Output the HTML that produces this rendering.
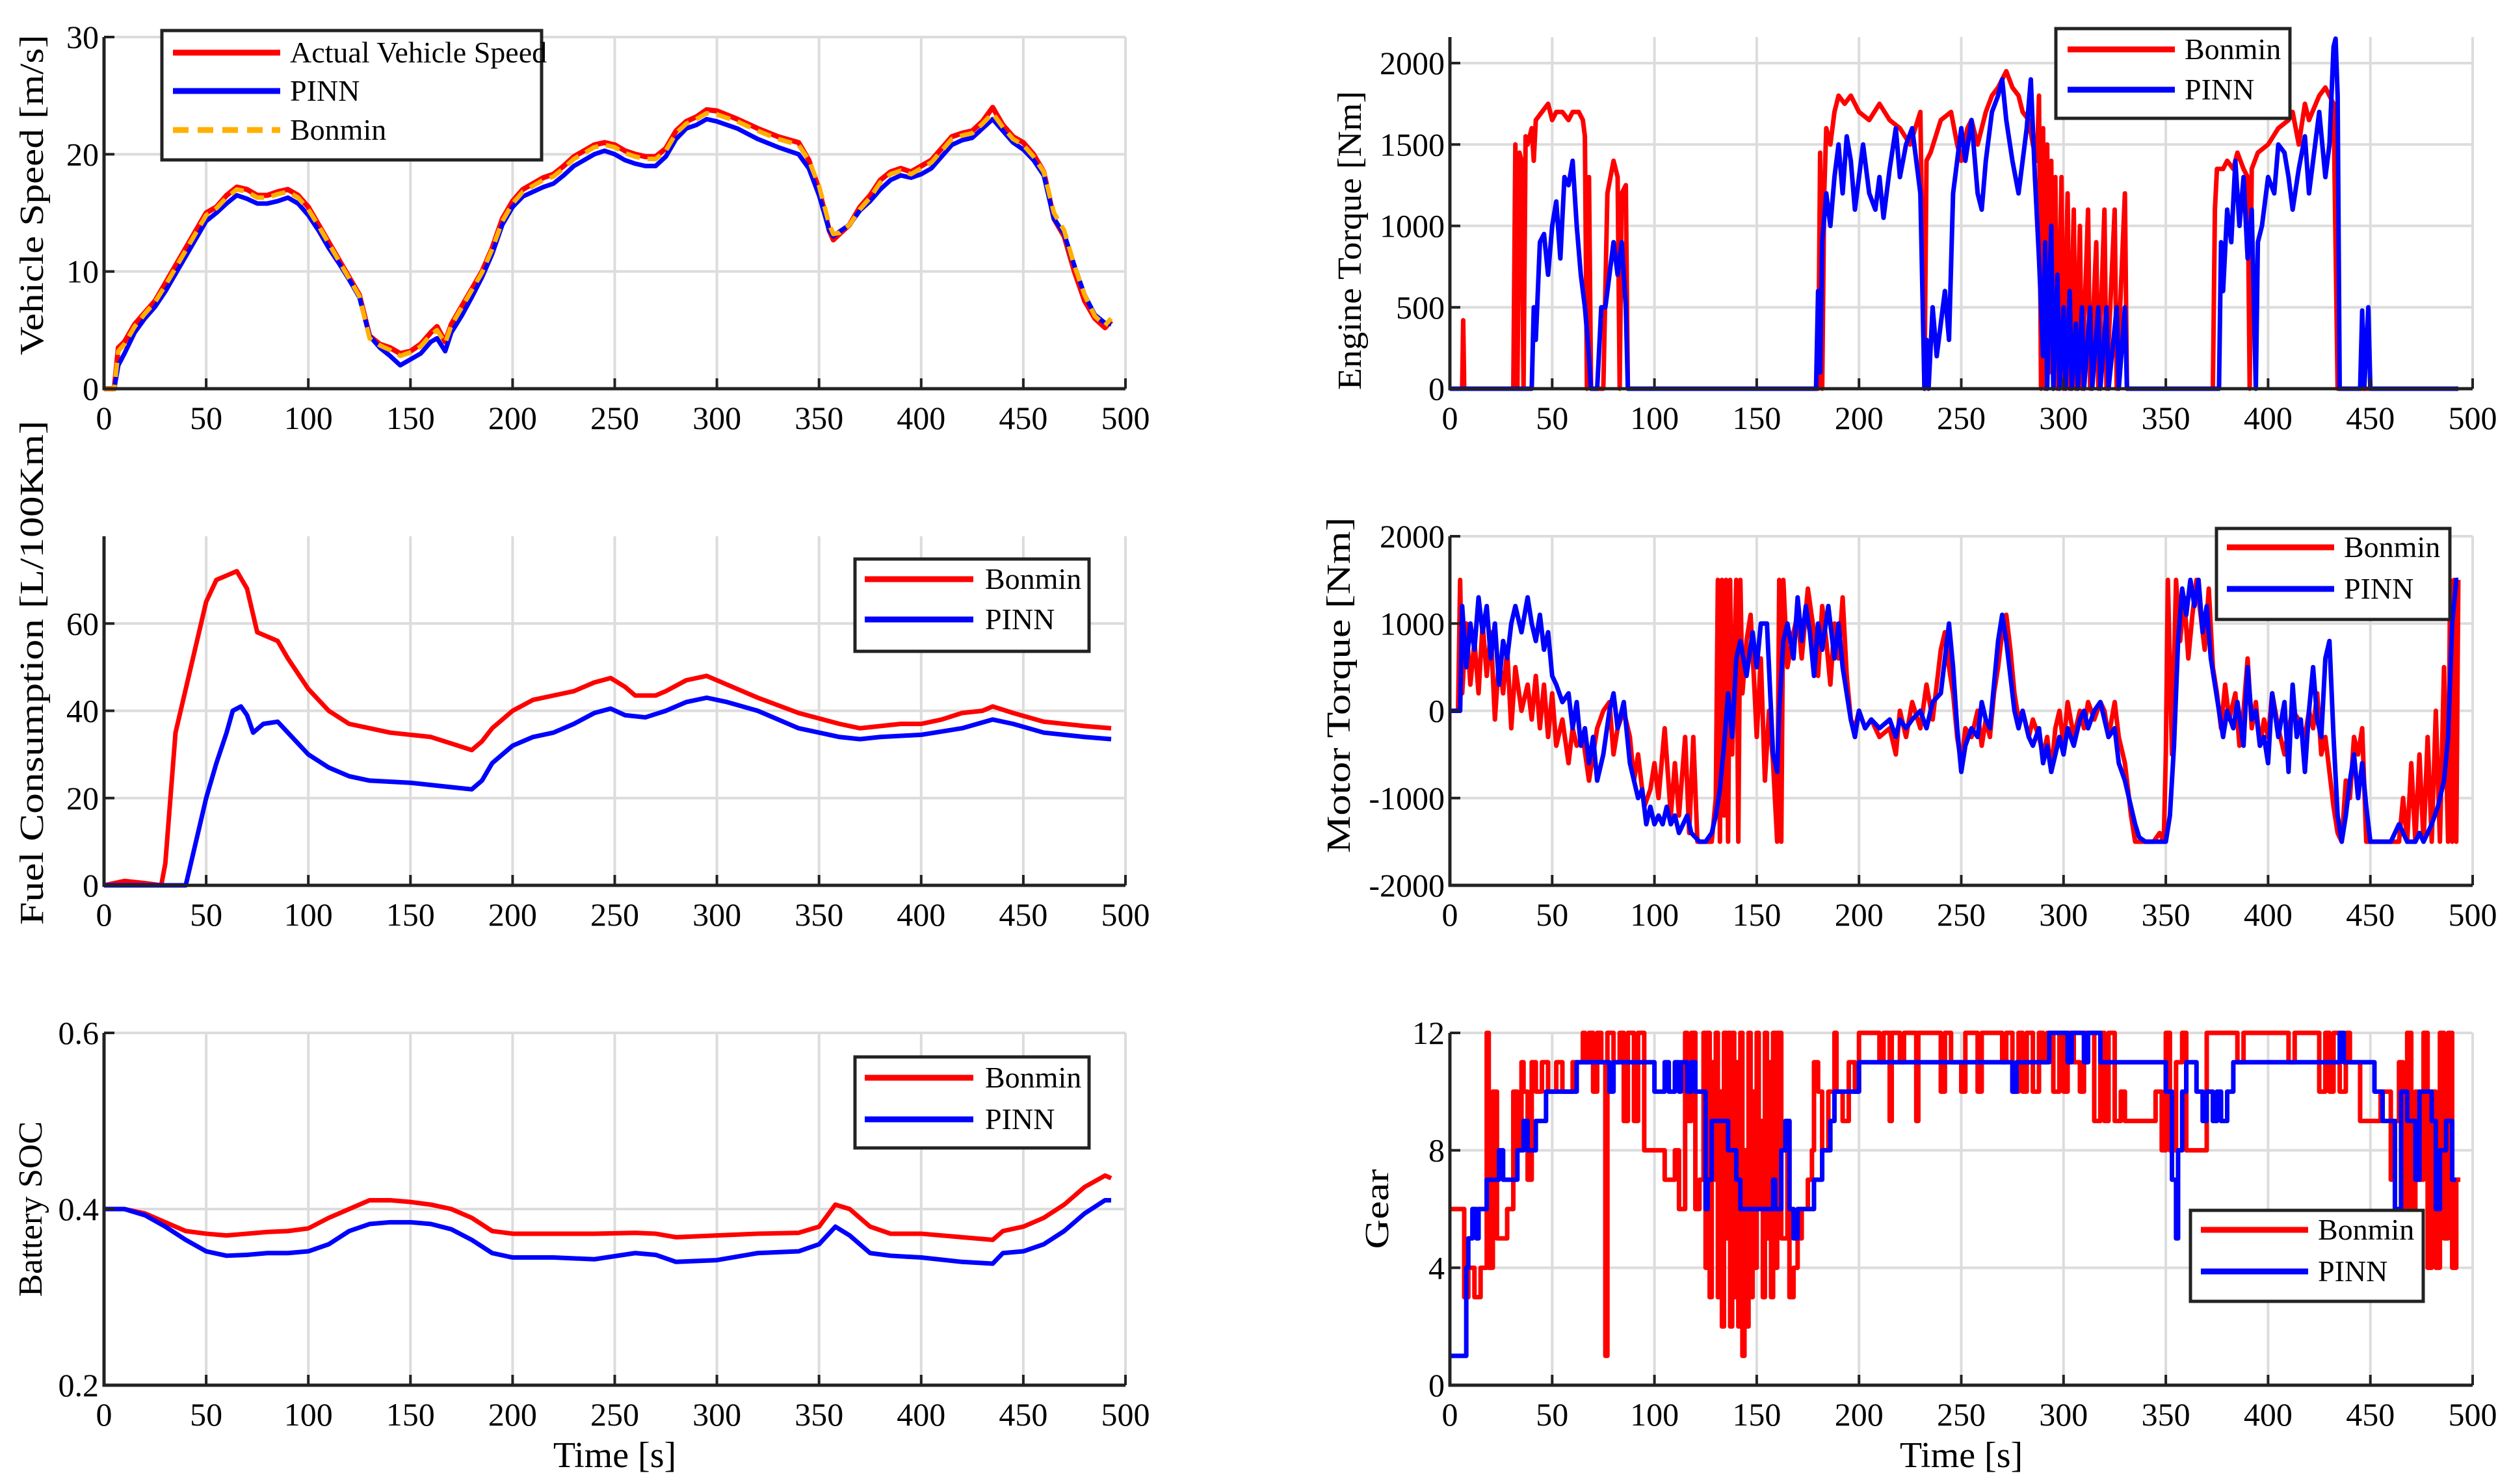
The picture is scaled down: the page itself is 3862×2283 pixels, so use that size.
<!DOCTYPE html>
<html><head><meta charset="utf-8">
<style>
html,body{margin:0;padding:0;background:#fff;}
svg{display:block;font-family:"Liberation Serif",serif;}
</style></head>
<body>
<svg id="fig" width="3862" height="2283" viewBox="0 0 3862 2283" xmlns="http://www.w3.org/2000/svg"></svg>
<script>
// ---------- DATA ----------
const speedT=[0,5,7,10,15,20,25,30,35,40,45,50,55,60,65,70,75,80,85,90,95,100,105,110,115,120,125,130,135,140,145,150,155,160,163,167,170,175,180,185,190,195,200,205,210,215,220,225,230,240,245,250,255,260,265,270,275,280,285,290,295,300,310,320,330,340,345,350,355,357,360,365,370,375,380,385,390,395,400,405,410,415,420,425,430,435,440,445,450,455,460,465,470,475,480,485,490,493];
const speedActual=[0,0,3.5,4,5.5,6.5,7.5,9,10.5,12,13.5,15,15.5,16.5,17.2,17,16.5,16.5,16.8,17,16.5,15.5,14,12.5,11,9.5,8,4.5,3.8,3.5,3,3.2,3.8,4.8,5.3,4,5.5,7,8.5,10,12,14.5,16,17,17.5,18,18.3,19,19.8,20.8,21,20.8,20.3,20,19.8,19.8,20.5,22,22.8,23.2,23.8,23.7,23,22.2,21.5,21,19.5,17,13.5,12.7,13.2,14,15.5,16.5,17.8,18.5,18.8,18.5,19,19.5,20.5,21.5,21.8,22,22.8,24,22.5,21.5,21,20,18.5,14.5,13,10,7.5,6,5.2,5.8];
const speedPinn=[0,0,2,3,4.8,6,7,8.3,9.8,11.3,12.8,14.3,15,15.8,16.5,16.2,15.8,15.8,16,16.3,15.8,14.8,13.5,12,10.7,9.3,7.8,4.5,3.5,2.8,2,2.5,3,4,4.3,3.2,4.8,6.2,7.8,9.5,11.5,14,15.5,16.4,16.8,17.2,17.5,18.2,19,20,20.3,20,19.5,19.2,19,19,19.8,21.3,22.2,22.5,23,22.8,22.2,21.3,20.6,20,18.8,16.5,13.5,13,13.4,14,15.2,16,17,17.8,18.2,18,18.3,18.8,19.8,20.8,21.2,21.4,22.2,23,22,21,20.4,19.5,18.2,14.5,13.2,10.5,8,6.3,5.6,5.5];
const speedBonmin=[0,0,3.2,3.8,5.3,6.4,7.4,8.8,10.3,11.8,13.3,14.8,15.4,16.3,17,16.8,16.3,16.3,16.6,16.8,16.3,15.3,13.9,12.4,10.9,9.4,7.9,4.3,3.7,3.3,2.8,3.1,3.6,4.6,5,3.9,5.4,6.9,8.4,9.9,11.9,14.3,15.8,16.8,17.3,17.8,18.1,18.8,19.6,20.6,20.8,20.6,20.1,19.8,19.6,19.6,20.3,21.8,22.6,23,23.5,23.4,22.8,22,21.3,20.8,19.5,17.3,14,13.2,13.3,14,15.3,16.3,17.6,18.3,18.6,18.3,18.8,19.3,20.3,21.3,21.6,21.8,22.6,23.5,22.3,21.3,20.8,19.8,18.5,15,13.5,10.5,8,6.2,5.4,6];

const fuelBonT=[0,10,20,28,30,35,40,45,50,55,60,65,70,75,80,85,90,100,110,120,130,140,150,160,170,180,185,190,200,210,220,230,240,248,255,260,270,275,285,295,305,320,340,360,370,380,390,400,410,420,430,435,445,460,480,493];
const fuelBonmin=[0,1,0.5,0,5,35,45,55,65,70,71,72,68,58,57,56,52,45,40,37,36,35,34.5,34,32.5,31,33,36,40,42.5,43.5,44.5,46.5,47.5,45.5,43.5,43.5,44.5,47,48,46,43,39.5,37,36,36.5,37,37,38,39.5,40,41,39.5,37.5,36.5,36];
const fuelPinnT=[0,40,45,50,55,60,63,67,70,73,78,85,90,100,110,120,130,150,170,180,185,190,200,210,220,230,240,248,255,265,275,285,295,305,320,340,360,370,380,400,420,435,445,460,480,493];
const fuelPinn=[0,0,10,20,28,35,40,41,39,35,37,37.5,35,30,27,25,24,23.5,22.5,22,24,28,32,34,35,37,39.5,40.5,39,38.5,40,42,43,42,40,36,34,33.5,34,34.5,36,38,37,35,34,33.5];

const socT=[0,10,20,30,40,50,60,70,80,90,100,110,120,130,140,150,160,170,180,190,200,220,240,260,270,280,300,320,340,350,358,365,375,385,400,420,435,440,450,460,470,480,490,493];
const socBonmin=[0.4,0.4,0.395,0.385,0.375,0.372,0.37,0.372,0.374,0.375,0.378,0.39,0.4,0.41,0.41,0.408,0.405,0.4,0.39,0.375,0.372,0.372,0.372,0.373,0.372,0.368,0.37,0.372,0.373,0.38,0.405,0.4,0.38,0.372,0.372,0.368,0.365,0.375,0.38,0.39,0.405,0.425,0.438,0.435];
const socPinn=[0.4,0.4,0.393,0.38,0.365,0.352,0.347,0.348,0.35,0.35,0.352,0.36,0.375,0.383,0.385,0.385,0.383,0.377,0.365,0.35,0.345,0.345,0.343,0.35,0.348,0.34,0.342,0.35,0.352,0.36,0.38,0.37,0.35,0.347,0.345,0.34,0.338,0.35,0.352,0.36,0.375,0.395,0.41,0.41];

const engBonT=[0,6,6.5,7,31,32,33,34,35,36,37,38,40,41,42,45,48,50,52,55,58,60,63,65,66,67,68,69,70,75,77,80,82,83,84,86,87,180,181,182,183,184,186,188,190,193,196,200,205,210,215,220,225,230,232,233,235,240,245,248,250,253,255,258,260,262,265,268,270,272,275,278,280,283,285,287,288,289,290,291,292,293,294,295,296,297,299,300,302,303,305,306,308,309,312,313,316,317,320,321,325,326,330,331,335,373,374,375,378,380,383,385,388,390,391,392,395,400,405,410,412,415,418,420,425,428,430,432,434,493];
const engBonmin=[0,0,420,0,0,1500,0,1450,1400,0,1550,1500,1600,1400,1650,1700,1750,1650,1700,1700,1650,1700,1700,1650,1550,0,1300,0,0,0,1200,1400,1300,0,1200,1250,0,0,1450,0,1200,1600,1500,1700,1800,1750,1800,1700,1650,1750,1650,1600,1500,1700,0,1400,1450,1650,1700,1500,1400,1600,1650,1500,1600,1700,1800,1850,1900,1950,1850,1800,1700,1650,1500,1400,1800,0,1600,0,1500,100,1400,0,1300,0,1300,0,1200,0,1100,0,1000,0,1100,0,900,0,1100,0,1100,0,1200,0,0,0,1100,1350,1350,1400,1350,1450,1350,1300,0,1350,1450,1500,1600,1650,1700,1500,1750,1650,1800,1850,1800,1750,0,0];
const engPinnT=[0,40,41,42,44,46,48,50,52,54,56,58,60,62,64,66,68,69,70,72,74,76,78,80,82,84,86,87,179,180,181,182,184,186,188,190,192,194,196,198,200,202,205,208,210,212,215,218,220,223,226,230,232,233,234,236,238,240,242,244,246,248,250,252,255,258,260,262,265,268,270,272,275,278,280,282,284,286,288,290,291,292,293,294,295,297,298,300,301,303,304,306,307,309,310,313,314,317,318,321,322,326,327,330,331,376,377,378,380,382,384,386,388,390,392,394,395,397,400,403,405,408,410,412,415,418,420,422,425,428,430,432,433,434,435,445,446,447,449,450,493];
const engPinn=[0,0,500,300,900,950,700,1000,1150,800,1300,1250,1400,1000,700,500,200,0,0,0,500,500,700,900,700,900,500,0,0,600,100,900,1200,1000,1300,1500,1200,1550,1400,1100,1300,1500,1200,1100,1300,1050,1350,1600,1300,1500,1600,1200,0,300,0,500,200,400,600,300,1200,1400,1600,1400,1650,1200,1100,1400,1700,1800,1900,1650,1400,1200,1400,1600,1900,1300,800,200,900,0,600,1000,0,700,0,500,0,600,0,400,0,500,0,500,0,500,0,500,0,500,0,500,0,0,900,600,1100,900,1400,1000,1300,800,1100,0,900,1000,1300,1200,1500,1450,1300,1100,1350,1550,1200,1400,1700,1300,1500,2100,2150,1800,0,0,480,0,500,0,0];

const motBonT=[0,4,5,6,8,10,12,14,16,18,20,22,24,26,28,30,32,35,38,40,42,44,46,48,50,52,55,58,60,62,65,68,70,72,75,78,80,82,85,88,90,92,95,98,100,102,105,108,110,112,115,117,119,121,125,128,130,131,132,133,134,135,136,137,138,140,141,142,143,145,147,149,150,152,154,156,158,160,161,162,163,165,168,170,172,175,178,180,182,184,186,188,190,192,194,196,198,200,203,206,210,215,218,220,223,226,230,233,236,240,242,244,246,248,250,252,255,258,260,262,264,266,268,270,272,274,276,278,280,283,285,288,290,292,294,296,298,300,302,305,308,310,312,315,318,320,322,325,327,330,333,335,340,342,344,347,349,350,351,353,355,357,359,361,363,365,367,369,371,373,375,377,379,381,384,386,388,390,392,394,396,398,400,402,405,408,410,412,415,418,420,422,424,426,428,430,432,434,436,438,440,442,444,446,448,450,455,460,464,466,468,470,472,474,476,478,480,482,484,486,488,489,490,491,492,493];
const motBonmin=[0,0,1500,200,1000,300,800,200,1000,400,900,-100,600,200,700,-200,500,0,300,-100,400,-200,300,-300,200,-400,-100,-600,-200,-400,-300,-800,-500,-200,0,100,-500,-200,0,-300,-800,-500,-1100,-900,-600,-1000,-200,-1200,-600,-1200,-300,-1400,-300,-1500,-1500,-1500,-1000,1500,-1500,1500,-1200,1500,-1500,1500,-500,1500,-1500,1500,200,800,1100,200,-300,600,-800,0,-600,-1500,1500,-1500,1500,500,900,1100,600,1400,900,400,1200,800,300,1000,600,1300,400,-100,-200,0,-200,-100,-300,-200,-500,0,-300,100,-200,300,-100,700,900,500,200,-300,-600,-200,-300,0,-400,-100,-300,200,500,900,1100,700,200,-100,0,-300,-100,-300,-500,-300,-700,-200,0,-400,100,-300,0,-200,100,-100,100,0,-300,100,-300,-600,-1200,-1500,-1500,-1500,-1500,-1400,-1500,-500,1500,-500,1500,800,1300,600,1100,1500,1100,700,1400,500,200,-200,300,-100,200,-400,0,600,-200,100,-400,-100,-300,200,-200,-500,-200,0,-100,-300,0,-200,200,-500,-300,-700,-1100,-1400,-1500,-800,-1000,-300,-500,-200,-1500,-1500,-1500,-1500,-1500,-1000,-1500,-600,-1500,-500,-1500,-300,-1500,0,-1500,500,-1500,1500,-1500,1500,-1500,1500];
const motPinnT=[0,5,6,8,10,12,14,16,18,20,22,24,26,28,30,32,35,38,40,42,44,46,48,50,52,55,58,60,62,64,66,68,70,72,75,78,80,82,85,88,90,92,94,96,98,100,102,104,106,108,110,112,114,116,118,120,122,125,128,130,132,134,136,138,140,142,145,148,150,152,155,158,160,161,163,165,168,170,172,174,176,178,180,182,185,188,190,192,194,196,198,200,203,206,210,215,218,220,223,226,230,233,236,240,242,244,246,248,250,252,255,258,260,262,264,266,268,270,272,274,276,278,280,283,285,288,290,292,294,296,298,300,302,305,308,310,312,315,318,320,322,325,327,330,333,335,337,340,345,350,352,354,356,358,360,362,364,366,368,370,372,374,376,378,380,383,385,388,390,392,394,396,398,400,402,405,408,410,412,414,416,418,420,422,424,426,428,430,432,434,436,438,440,442,444,446,448,450,455,460,462,464,466,468,472,474,476,480,483,486,488,490,492,493];
const motPinn=[0,0,1200,500,1000,700,1300,900,1200,600,1000,300,800,600,1000,1200,900,1300,1000,800,1100,700,900,400,300,100,200,-200,100,-400,-200,-600,-300,-800,-500,0,200,-200,100,-600,-800,-1000,-900,-1300,-1100,-1300,-1200,-1300,-1100,-1300,-1200,-1400,-1300,-1200,-1400,-1450,-1500,-1500,-1400,-1200,-900,-400,200,-300,600,800,400,900,500,1000,1000,-500,-700,0,800,1000,600,1300,800,1200,900,400,1000,700,1200,600,1000,500,200,-100,-300,0,-200,-100,-200,-100,-300,-100,-200,-100,0,-200,100,200,600,1000,500,-200,-700,-400,-200,-300,100,-100,-200,300,800,1100,800,400,0,-200,0,-300,-400,-200,-600,-400,-700,-500,-300,-500,-200,-400,-100,0,-200,0,100,-100,-300,-200,-600,-800,-1100,-1300,-1450,-1500,-1500,-1500,-1200,-400,800,1400,1100,1500,1200,1500,900,1200,600,300,0,-300,0,-200,100,-400,500,-100,0,-400,-300,-600,200,-300,100,-700,300,-300,-100,-700,0,500,-100,-300,600,800,-300,-1200,-1500,-1200,-800,-500,-1000,-600,-1100,-1500,-1500,-1500,-1400,-1300,-1400,-1500,-1500,-1400,-1500,-1300,-1100,-800,-300,1000,1500,1500];

const gearBonT=[0,7,9,12,15,18,19,21,23,28,31,33,35,36,38,40,42,45,48,52,55,60,65,66,68,70,72,74,76,77,80,83,85,87,90,92,95,100,105,110,112,115,116,118,120,122,124,125,126,127,128,129,130,131,132,133,134,135,136,137,138,139,140,141,142,143,144,145,146,147,148,149,150,151,152,153,154,155,156,157,158,159,160,162,165,166,168,170,172,175,177,178,180,182,185,188,189,192,195,198,200,210,212,215,216,220,222,228,229,240,242,245,250,252,258,260,270,272,275,278,280,282,285,288,290,292,295,298,300,302,305,308,310,315,318,320,322,325,328,330,340,345,348,350,352,355,358,360,365,370,385,388,400,410,413,425,428,430,432,435,438,440,445,455,460,462,464,466,468,470,472,474,476,478,480,482,484,486,488,490,492,494];
const gearBonmin=[6,3,4,3,4,12,4,10,5,6,10,8,11,10,7,11,10,11,10,11,10,11,12,11,12,10,12,11,1,12,11,12,9,12,9,12,8,8,7,8,6,12,9,12,6,7,12,4,12,3,11,7,12,3,10,2,12,5,12,2,12,3,11,2,12,1,8,2,12,3,10,4,12,6,9,3,12,5,11,3,12,4,12,5,9,3,4,5,6,7,8,11,10,8,10,12,10,9,11,10,12,11,12,9,12,11,12,9,12,10,12,11,10,12,10,12,11,12,10,12,10,12,10,12,11,12,10,12,10,12,11,10,12,9,12,9,12,9,10,9,9,10,8,12,8,11,12,8,8,12,11,12,12,11,12,10,12,10,12,10,12,11,9,10,7,9,11,4,12,5,10,7,12,4,10,4,12,5,12,4,7,7];
const gearPinnT=[0,8,9,11,13,14,18,24,26,33,36,38,42,47,62,78,80,100,105,107,110,112,113,116,118,120,125,126,128,136,140,142,158,159,162,164,166,168,170,178,182,186,188,200,275,277,293,302,304,310,312,318,350,353,355,356,358,360,365,368,370,373,375,377,380,383,435,437,452,456,462,465,468,472,474,478,480,482,484,487,490,492];
const gearPinn=[1,4,5,6,5,6,7,8,7,8,9,8,9,10,11,10,11,10,11,10,11,10,11,10,11,10,6,7,9,8,7,6,7,6,8,9,6,5,6,7,8,9,10,11,10,11,12,11,12,11,12,11,10,7,5,8,10,11,10,9,10,9,10,9,10,11,12,11,10,9,6,10,9,7,10,10,9,6,8,9,7,7];

const xTicks=[0,50,100,150,200,250,300,350,400,450,500];
const speedTicks=[0,10,20,30], fuelTicks=[0,20,40,60], socTicks=[0.2,0.4,0.6];
const engTicks=[0,500,1000,1500,2000], motTicks=[-2000,-1000,0,1000,2000], gearTicks=[0,4,8,12];

// ---------- DRAWING ----------
const NS="http://www.w3.org/2000/svg";
const svg=document.getElementById('fig');
function mk(tag,attrs,parent){const e=document.createElementNS(NS,tag);for(const k in attrs)e.setAttribute(k,attrs[k]);(parent||svg).appendChild(e);return e;}
const RED="#ff0000",BLUE="#0000ff",ORANGE="#ffb000";

function makeAxes(name,box,yMin,yMax,yTicks,yTitle,titleX,titleLen,legend,series,showTime){
  const g=mk('g',{});
  
  
  const sx=v=>box.x0+(v-0)/500*(box.x1-box.x0);
  const sy=v=>box.y1-(v-yMin)/(yMax-yMin)*(box.y1-box.y0);
  xTicks.forEach(t=>{if(t===0)return;const l=mk('line',{x1:sx(t),x2:sx(t),y1:box.y0,y2:box.y1,stroke:'#dcdcdc','stroke-width':4},g);
    });
  yTicks.forEach(t=>{if(t===yMin)return;const l=mk('line',{x1:box.x0,x2:box.x1,y1:sy(t),y2:sy(t),stroke:'#dcdcdc','stroke-width':4},g);
    });
  series.forEach(s=>{
    let pts=[];
    for(let i=0;i<s.t.length;i++){
      if(s.step&&i>0)pts.push(sx(s.t[i])+','+sy(s.v[i-1]));
      pts.push(sx(s.t[i])+','+sy(s.v[i]));
    }
    const p=mk('polyline',{points:pts.join(' '),fill:'none',stroke:s.c,'stroke-width':s.w||7,'stroke-linejoin':'round','stroke-dasharray':s.dash||'none'},g);
    
    
  });
  const ax=mk('path',{d:`M${box.x0},${box.y0} L${box.x0},${box.y1} L${box.x1},${box.y1}`,fill:'none',stroke:'#222','stroke-width':5},g);
  
  xTicks.forEach(t=>{mk('line',{x1:sx(t),x2:sx(t),y1:box.y1,y2:box.y1-16,stroke:'#222','stroke-width':4},g);
    const tx=mk('text',{x:sx(t),y:box.y1+62,'text-anchor':'middle','font-size':50},g);tx.textContent=t;
    });
  yTicks.forEach(t=>{mk('line',{x1:box.x0,x2:box.x0+16,y1:sy(t),y2:sy(t),stroke:'#222','stroke-width':4},g);
    const tx=mk('text',{x:box.x0-8,y:sy(t)+17,'text-anchor':'end','font-size':50},g);tx.textContent=t;
    });
  const cy=box.yc;
  const tt=mk('text',{x:titleX,y:cy,'text-anchor':'middle','font-size':52,transform:`rotate(-90 ${titleX} ${cy})`,textLength:titleLen,lengthAdjust:'spacingAndGlyphs','dominant-baseline':'middle'},g);
  tt.textContent=yTitle;
  if(showTime){const tm=mk('text',{x:(box.x0+box.x1)/2,y:2257,'text-anchor':'middle','font-size':56},g);tm.textContent='Time [s]';
    }
  const lg=mk('g',{},g);
  
  mk('rect',{x:legend.x0,y:legend.y0,width:legend.x1-legend.x0,height:legend.y1-legend.y0,fill:'#fff',stroke:'#222','stroke-width':5},lg);
  legend.items.forEach((it,i)=>{
    const y=legend.ys[i];
    mk('line',{x1:legend.lx0,x2:legend.lx1,y1:y,y2:y,stroke:it.c,'stroke-width':9,'stroke-dasharray':it.dash||'none'},lg);
    const tx=mk('text',{x:legend.tx,y:y+15,'font-size':46},lg);tx.textContent=it.label;
    
  });
}
const L={x0:160,x1:1731},R={x0:2230,x1:3803};
const r1={y0:57,y1:598},r2={y0:825,y1:1362},r3={y0:1589,y1:2131};

makeAxes('vehicle-speed-chart',{...L,...r1,yc:300},0,30,speedTicks,'Vehicle Speed [m/s]',54,493,
 {x0:249,x1:833,y0:47,y1:246,ys:[81,140,200],lx0:266,lx1:431,tx:446,items:[{c:RED,label:'Actual Vehicle Speed'},{c:BLUE,label:'PINN'},{c:ORANGE,label:'Bonmin',dash:'24 14'}]},
 [{t:speedT,v:speedActual,c:RED,name:'actual-speed-line',w:8},{t:speedT,v:speedPinn,c:BLUE,name:'pinn-speed-line'},{t:speedT,v:speedBonmin,c:ORANGE,name:'bonmin-speed-line',dash:'22 12'}],false);

makeAxes('fuel-consumption-chart',{...L,...r2,yc:1035},0,80,fuelTicks,'Fuel Consumption [L/100Km]',54,776,
 {x0:1315,x1:1675,y0:860,y1:1002,ys:[891,953],lx0:1330,lx1:1497,tx:1515,items:[{c:RED,label:'Bonmin'},{c:BLUE,label:'PINN'}]},
 [{t:fuelBonT,v:fuelBonmin,c:RED,name:'bonmin-fuel-line'},{t:fuelPinnT,v:fuelPinn,c:BLUE,name:'pinn-fuel-line'}],false);

makeAxes('battery-soc-chart',{...L,...r3,yc:1860},0.2,0.6,socTicks,'Battery SOC',52,270,
 {x0:1315,x1:1675,y0:1626,y1:1766,ys:[1658,1722],lx0:1330,lx1:1497,tx:1515,items:[{c:RED,label:'Bonmin'},{c:BLUE,label:'PINN'}]},
 [{t:socT,v:socBonmin,c:RED,name:'bonmin-soc-line'},{t:socT,v:socPinn,c:BLUE,name:'pinn-soc-line'}],true);

makeAxes('engine-torque-chart',{...R,...r1,yc:370},0,2160,engTicks,'Engine Torque [Nm]',2081,460,
 {x0:3162,x1:3522,y0:44,y1:182,ys:[76,138],lx0:3180,lx1:3345,tx:3360,items:[{c:RED,label:'Bonmin'},{c:BLUE,label:'PINN'}]},
 [{t:engBonT,v:engBonmin,c:RED,name:'bonmin-engine-torque-line'},{t:engPinnT,v:engPinn,c:BLUE,name:'pinn-engine-torque-line'}],false);

makeAxes('motor-torque-chart',{...R,...r2,yc:1054},-2000,2000,motTicks,'Motor Torque [Nm]',2064,517,
 {x0:3409,x1:3768,y0:813,y1:953,ys:[842,906],lx0:3425,lx1:3590,tx:3605,items:[{c:RED,label:'Bonmin'},{c:BLUE,label:'PINN'}]},
 [{t:motBonT,v:motBonmin,c:RED,name:'bonmin-motor-torque-line'},{t:motPinnT,v:motPinn,c:BLUE,name:'pinn-motor-torque-line'}],false);

makeAxes('gear-chart',{...R,...r3,yc:1860},0,12,gearTicks,'Gear',2123,123,
 {x0:3369,x1:3727,y0:1862,y1:2002,ys:[1892,1956],lx0:3385,lx1:3550,tx:3565,items:[{c:RED,label:'Bonmin'},{c:BLUE,label:'PINN'}]},
 [{t:gearBonT,v:gearBonmin,c:RED,name:'bonmin-gear-line',step:true},{t:gearPinnT,v:gearPinn,c:BLUE,name:'pinn-gear-line',step:true}],true);
</script>
</body></html>
